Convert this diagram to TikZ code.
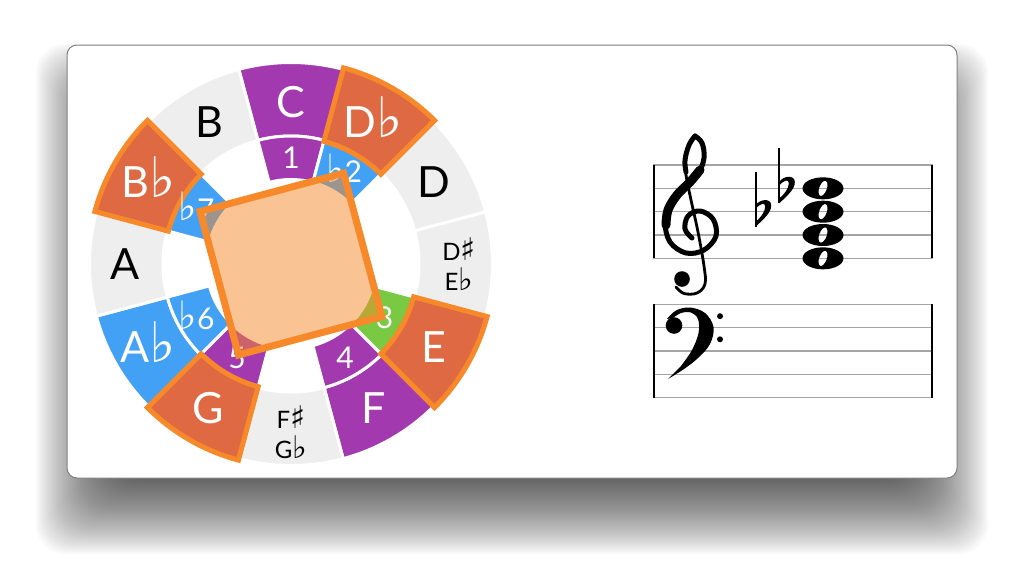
\documentclass[tikz,border=0pt]{standalone}
\usepackage{fontspec}
\setmainfont{Lato}
\newfontfamily\accfont[Scale=1.3]{DejaVu Sans}
\newcommand{\mflat}{{\accfont ♭}}
\newcommand{\msharp}{{\accfont ♯}}
\definecolor{ringgray}{RGB}{238,238,238}
\definecolor{notepurple}{RGB}{163,57,175}
\definecolor{noteblue}{RGB}{66,161,245}
\definecolor{notegreen}{RGB}{122,201,67}
\definecolor{chordfill}{RGB}{223,105,66}
\definecolor{chordline}{RGB}{247,137,42}
\definecolor{staffgray}{RGB}{165,165,165}

\begin{document}
\begin{tikzpicture}[x=1pt,y=1pt,yscale=-1,
	sector/.style args={#1:#2:#3:#4}{insert path={(#1:#3) arc[start angle=#1, end angle=#2, radius=#3] -- (#2:#4) arc[start angle=#2, end angle=#1, radius=#4] -- cycle}},
	ringsep/.style={draw=white, line width=3},
	chordseg/.style={draw=chordline, line width=5, fill=chordfill, line join=miter},
	notename/.style={font=\fontsize{43}{43}\selectfont, inner sep=0, text height=31, text depth=0},
	twoname/.style={font=\fontsize{24}{30}\selectfont, inner sep=0, align=center},
	degname/.style={font=\fontsize{30}{30}\selectfont, inner sep=0, text height=21.5, text depth=0, text=white},
	chordbox/.style={draw=chordline, line width=7, fill=chordline, fill opacity=0.5, line join=miter},
	staffline/.style={draw=staffgray, line width=1.4},
	barline/.style={draw=black, line width=2.2},
	clefline/.style={draw=black, line width=2.8, line cap=round, line join=round}]
	\useasboundingbox (0,0) rectangle (1024,568);
	
	% card and its shadow
	\foreach \e in {-44,-42,...,56}
		\fill[black, opacity=0.022, rounded corners=30] (92-\e,100-\e) rectangle (932+\e,498+\e);
	\draw[draw=black!50, line width=1, fill=white, rounded corners=10] (67,45) rectangle (957,478);
	
	\begin{scope}[shift={(291,264)}]
	% note ring
	\draw[ringsep, fill=notepurple] [sector={-105:-75:128:201.5}];
	\draw[ringsep, fill=ringgray] [sector={-45:-15:128:201.5}];
	\draw[ringsep, fill=ringgray] [sector={-15:15:128:201.5}];
	\draw[ringsep, fill=notepurple] [sector={45:75:128:201.5}];
	\draw[ringsep, fill=ringgray] [sector={75:105:128:201.5}];
	\draw[ringsep, fill=noteblue] [sector={135:165:128:201.5}];
	\draw[ringsep, fill=ringgray] [sector={165:195:128:201.5}];
	\draw[ringsep, fill=ringgray] [sector={225:255:128:201.5}];
	% degree ring
	\draw[ringsep, fill=notepurple] [sector={-105:-75:84.5:128}];
	\draw[ringsep, fill=noteblue] [sector={-75:-45:84.5:128}];
	\draw[ringsep, fill=notegreen] [sector={15:45:84.5:128}];
	\draw[ringsep, fill=notepurple] [sector={45:75:84.5:128}];
	\draw[ringsep, fill=notepurple] [sector={105:135:84.5:128}];
	\draw[ringsep, fill=noteblue] [sector={135:165:84.5:128}];
	\draw[ringsep, fill=noteblue] [sector={195:225:84.5:128}];
	% chord notes
	\draw[chordseg] [sector={-75:-45:127:203}];
	\draw[chordseg] [sector={15:45:127:203}];
	\draw[chordseg] [sector={105:135:127:203}];
	\draw[chordseg] [sector={195:225:127:203}];
	
	\node[notename, text=white] (nC) at (-90:162) {C};
	\node[notename, text=white] (nDb) at (-60:164) {D\mflat};
	\node[notename] (nD) at (-30:165) {D};
	\node[twoname] (nDsEb) at (0:168) {D\msharp\\E\mflat};
	\node[notename, text=white] (nE) at (30:165) {E};
	\node[notename, text=white] (nF) at (60:166) {F};
	\node[twoname] (nFsGb) at (90:168) {F\msharp\\G\mflat};
	\node[notename, text=white] (nG) at (120:166) {G};
	\node[notename, text=white] (nAb) at (150:165) {A\mflat};
	\node[notename] (nA) at (180:166) {A};
	\node[notename, text=white] (nBb) at (210:164) {B\mflat};
	\node[notename] (nB) at (240:164) {B};
	
	\node[degname] (d1) at (-90:106) {1};
	\node[degname] (d2) at (-60:106) {\mflat2};
	\node[degname] (d3) at (30:108) {3};
	\node[degname] (d4) at (60:108) {4};
	\node[degname] (d5) at (120:108) {5};
	\node[degname] (d6) at (150:109) {\mflat6};
	\node[degname] (d7) at (210:109) {\mflat7};
	
	\coordinate (cDb) at (-60:105);
	\coordinate (cE) at (30:105);
	\coordinate (cG) at (120:105);
	\coordinate (cBb) at (210:105);
	\draw[chordbox] (cDb) -- (cE) -- (cG) -- (cBb) -- cycle;
	\end{scope}
	
	% staves
	\foreach \y in {165,188.33,211.67,235,258.33,304.33,327.67,351,374.33,397.67}
		\draw[staffline] (653,\y) -- (933,\y);
	\draw[barline] (653.7,165) -- (653.7,258.33);
	\draw[barline] (932.3,165) -- (932.3,258.33);
	\draw[barline] (653.7,304.33) -- (653.7,397.67);
	\draw[barline] (932.3,304.33) -- (932.3,397.67);
	
	% treble clef
	\draw[clefline] plot[smooth, tension=0.6] coordinates {(676,287) (684,293.5) (697,293) (705,284) (704,266) (698,232) (691,200) (686,175) (685,160) (689,145) (695,136)};
	\draw[clefline, line width=5] plot[smooth, tension=0.6] coordinates {(695,136) (702,143) (704,158) (698,174) (684,189) (670,205) (665,222) (670,242) (686,253) (704,250) (716,236) (713,219) (700,211) (688,216) (685,229) (692,238)};
	\draw[clefline, line width=9] plot[smooth, tension=0.6] coordinates {(700,170) (690,182) (677,195) (668,210) (666,225)};
	\draw[clefline, line width=5] plot[smooth, tension=0.6] coordinates {(695,136) (689,145) (685,160) (686,172)};
	\fill (682,279) circle (7.8);
	
	% bass clef
	\fill plot[smooth, tension=0.6] coordinates {(667,319) (676,310.5) (690,307.5) (705,313) (713.5,327) (710,344) (698,358) (684,369) (668,379)} -- plot[smooth, tension=0.6] coordinates {(681,366) (692,350) (698.5,333) (698,319) (691,312.5) (681,313) (673,318)} -- cycle;
	\fill (674,325.5) circle (8.3);
	\fill (720,316.2) circle (3);
	\fill (720,339.3) circle (3);
	
	% flats
	\begin{scope}[shift={(755.7,211.67)}]
	\draw[line width=1.8] (0,-40) -- (0,15);
	\fill (0,-6.5) .. controls (4,-12.5) and (15,-14) .. (15.5,-6.5) .. controls (16,1) and (7,8) .. (0,15) -- (0,10) .. controls (5,6) and (9.5,0) .. (9.5,-5) .. controls (9.5,-9.5) and (5,-8.5) .. (0,-3) -- cycle;
	\end{scope}
	\begin{scope}[shift={(779.3,188.33)}]
	\draw[line width=1.8] (0,-40) -- (0,15);
	\fill (0,-6.5) .. controls (4,-12.5) and (15,-14) .. (15.5,-6.5) .. controls (16,1) and (7,8) .. (0,15) -- (0,10) .. controls (5,6) and (9.5,0) .. (9.5,-5) .. controls (9.5,-9.5) and (5,-8.5) .. (0,-3) -- cycle;
	\end{scope}
	
	% chord
	\foreach \y in {188.33,211.67,235,258.33}
		\fill[even odd rule] (823,\y) ellipse[x radius=20.5, y radius=11] (823,\y) ellipse[x radius=3.8, y radius=8, rotate=20];
	
\end{tikzpicture}
\end{document}
